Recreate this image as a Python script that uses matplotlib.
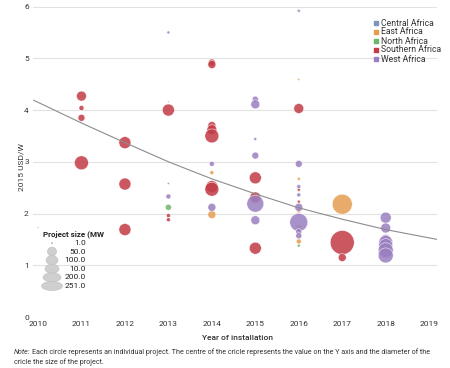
import matplotlib.pyplot as plt
from matplotlib.patches import Ellipse

plt.rcParams['font.family'] = ['Roboto', 'DejaVu Sans']

regions = ['Central Africa', 'East Africa', 'North Africa', 'Southern Africa', 'West Africa']
region_colors = ['#7f93bd', '#e69d4f', '#6cb66a', '#c23b45', '#9a7fc1']

# one entry per project
year = [2010, 2013, 2013, 2013, 2015, 2016,
        2014, 2014, 2016, 2016, 2016, 2016, 2016, 2017,
        2013, 2016,
        2011, 2011, 2011, 2011, 2012, 2012, 2012, 2013, 2013, 2013,
        2014, 2014, 2014, 2014, 2014, 2014, 2014, 2015, 2015, 2015,
        2016, 2016, 2016, 2017, 2017,
        2013, 2014, 2014, 2015, 2015, 2015, 2015, 2015,
        2016, 2016, 2016, 2016, 2016, 2016, 2016,
        2018, 2018, 2018, 2018, 2018, 2018, 2018]
usd_per_w = [1.73, 5.50, 4.16, 2.58, 3.44, 5.92,
             2.79, 1.98, 4.59, 2.67, 2.05, 1.73, 1.46, 2.18,
             2.12, 1.38,
             4.27, 4.04, 3.85, 2.98, 3.37, 2.57, 1.69, 4.00, 1.96, 1.88,
             4.92, 4.88, 3.70, 3.62, 3.50, 2.52, 2.47, 2.69, 2.31, 1.33,
             4.03, 2.46, 2.23, 1.44, 1.15,
             2.33, 2.96, 2.12, 4.21, 4.11, 3.12, 2.19, 1.87,
             2.96, 2.52, 2.36, 2.12, 1.83, 1.65, 1.57,
             1.92, 1.72, 1.50, 1.44, 1.38, 1.29, 1.19]
size_mw = [1, 4, 1, 2, 4, 4,
           7, 28, 2, 4, 7, 11, 11, 174,
           16, 4,
           43, 11, 21, 85, 63, 63, 63, 63, 7, 7,
           21, 28, 28, 43, 85, 63, 85, 63, 53, 63,
           43, 4, 4, 251, 28,
           11, 11, 28, 16, 35, 21, 125, 35,
           21, 7, 7, 28, 141, 16, 16,
           53, 43, 43, 85, 85, 98, 98]
region = ['Central Africa'] * 6 + ['East Africa'] * 8 + ['North Africa'] * 2 + \
         ['Southern Africa'] * 25 + ['West Africa'] * 22

# trend line
trend_years = [2009.9, 2011, 2012, 2013, 2014, 2015, 2016, 2017, 2018, 2019.18]
trend_values = [4.19, 3.75, 3.37, 3.00, 2.67, 2.38, 2.11, 1.89, 1.69, 1.50]

legend_mw = [1.0, 50.0, 100.0, 10.0, 200.0, 251.0]

fig = plt.figure(figsize=(4.5, 3.68), dpi=100)
ax = fig.add_axes([33 / 450, 1 - 317 / 368, 404 / 450, 313 / 368])

# marker area proportional to MW; 251 MW -> ~12 px radius
px_per_pt = 100 / 72
for reg, col in zip(regions, region_colors):
    xs = [x for x, r in zip(year, region) if r == reg]
    ys = [y for y, r in zip(usd_per_w, region) if r == reg]
    ss = [(2 * 12 / px_per_pt) ** 2 * m / 251 for m, r in zip(size_mw, region) if r == reg]
    ax.scatter(xs, ys, s=ss, color=col, alpha=0.85, edgecolors='white',
               linewidths=0.4, zorder=3)

ax.plot(trend_years, trend_values, color='#8c8c8c', lw=0.8, zorder=4)

ax.set_xlim(2009.885, 2019.18)
ax.set_ylim(0, 6.05)
ax.set_yticks(range(0, 7))
ax.set_xticks(range(2010, 2020))
ax.yaxis.grid(True, color='#e2e2e2', lw=0.8)
ax.set_axisbelow(True)
for s in ax.spines.values():
    s.set_visible(False)
ax.tick_params(length=0, labelsize=6, colors='#333333', pad=3)

# overlay in pixel coordinates for legends and captions
lax = fig.add_axes([0, 0, 1, 1])
lax.set_xlim(0, 450)
lax.set_ylim(368, 0)
lax.axis('off')

lax.text(21, 167, '2015 USD/W', rotation=90, ha='center', va='center',
         fontsize=6, color='#333333')
lax.text(237, 338, 'Year of installation', ha='center', va='center',
         fontsize=6, color='#333333', fontweight='medium')

for i, (reg, col) in enumerate(zip(regions, region_colors)):
    yy = 23 + i * 9
    lax.scatter([376], [yy], marker='s', s=8, color=col)
    lax.text(381, yy, reg, ha='left', va='center', fontsize=6.2, color='#333333')

# project size legend
lax.text(43, 234, 'Project size (MW', ha='left', va='center', fontsize=5.8,
         fontweight='bold', color='#222222')
shape_w = [1.5, 9, 12, 14, 18, 21]
for i, mw in enumerate(legend_mw):
    yy = 243 + i * 8.6
    h = 1.5 if i == 0 else 9
    lax.add_patch(Ellipse((52, yy), shape_w[i], h, facecolor='#cfcfcf',
                          edgecolor='#bdbdbd', lw=0.4, zorder=2 + i))
    lax.text(86, yy, f'{mw:.1f}', ha='right', va='center', fontsize=6,
             color='#222222')

lax.text(14, 352, 'Note:', ha='left', va='center', fontsize=5.15,
         style='italic', color='#333333')
lax.text(31.5, 352, 'Each circle represents an individual project. The centre of the cricle '
         'represents the value on the Y axis and the diameter of the',
         ha='left', va='center', fontsize=5.15, color='#333333')
lax.text(14, 362, 'cricle the size of the project.', ha='left', va='center',
         fontsize=5.15, color='#333333')

fig.savefig('out.png', dpi=100)
